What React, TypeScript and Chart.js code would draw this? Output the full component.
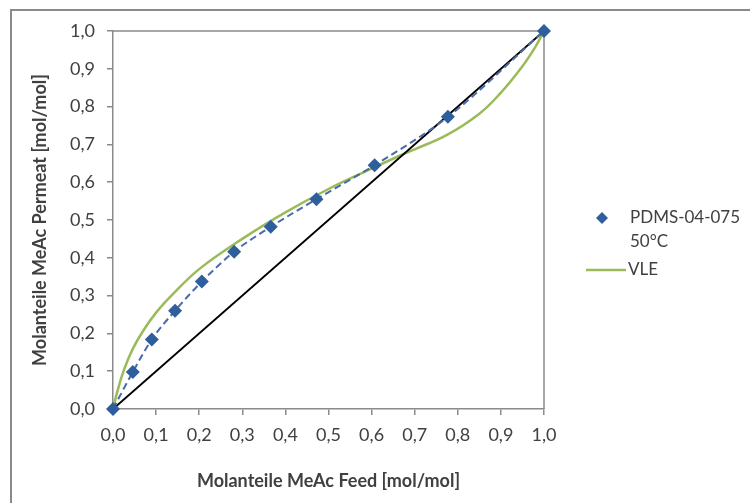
import React, { useEffect, useRef } from "react";
import { Chart, registerables } from "chart.js";

Chart.register(...registerables);

// Measured series PDMS-04-075 50°C
const feedX = [0, 0.046, 0.09, 0.144, 0.206, 0.281, 0.366, 0.472, 0.607, 0.777, 1.0];
const permeatY = [0, 0.098, 0.184, 0.26, 0.337, 0.416, 0.482, 0.555, 0.645, 0.773, 1.0];

// VLE curve
const vleX = [0, 0.01, 0.025, 0.045, 0.07, 0.1, 0.14, 0.2, 0.3, 0.4, 0.5, 0.6, 0.665, 0.7, 0.775, 0.85, 0.9, 0.95, 0.98, 1.0];
const vleY = [0, 0.046, 0.102, 0.157, 0.207, 0.255, 0.305, 0.37, 0.45, 0.52, 0.582, 0.636, 0.67, 0.687, 0.725, 0.781, 0.837, 0.907, 0.958, 1.0];

// Diagonal
const diagX = [0, 1];
const diagY = [0, 1];

const seriesLabel = ["PDMS-04-075", "50°C"];
const vleLabel = "VLE";
const xTitle = "Molanteile MeAc Feed [mol/mol]";
const yTitle = "Molanteile MeAc Permeat [mol/mol]";

const FONT = "Lato, 'Open Sans', sans-serif";
const TEXT = "#404040";
const AXIS = "#8a8a8a";
const BLUE = "#2f5e9c";
const BLUE_LINE = "#4a6aa8";
const GREEN = "#9bbb59";

const zip = (xs: number[], ys: number[]) => xs.map((x, i) => ({ x, y: ys[i] }));
const fmt = (v: any) => Number(v).toFixed(1).replace(".", ",");

const framePlugin = {
  id: "frame",
  beforeDraw(chart: any) {
    const ctx = chart.ctx;
    ctx.save();
    ctx.fillStyle = "#ffffff";
    ctx.fillRect(0, 0, chart.width, chart.height);
    ctx.strokeStyle = AXIS;
    ctx.lineWidth = 2;
    ctx.beginPath();
    ctx.moveTo(11, chart.height + 5);
    ctx.lineTo(11, 10);
    ctx.lineTo(chart.width + 5, 10);
    ctx.stroke();
    ctx.restore();
  },
  beforeDatasetsDraw(chart: any) {
    const { ctx, chartArea: a } = chart;
    ctx.save();
    ctx.strokeStyle = AXIS;
    ctx.lineWidth = 1.5;
    ctx.beginPath();
    ctx.moveTo(a.left, a.top);
    ctx.lineTo(a.right, a.top);
    ctx.lineTo(a.right, a.bottom);
    ctx.stroke();
    ctx.restore();
  },
  afterDraw(chart: any) {
    const ctx = chart.ctx;
    ctx.save();
    const dx = 602, dy = 218, r = 6;
    ctx.fillStyle = BLUE;
    ctx.beginPath();
    ctx.moveTo(dx, dy - r);
    ctx.lineTo(dx + r, dy);
    ctx.lineTo(dx, dy + r);
    ctx.lineTo(dx - r, dy);
    ctx.closePath();
    ctx.fill();
    ctx.fillStyle = TEXT;
    ctx.font = `17px ${FONT}`;
    ctx.textBaseline = "middle";
    ctx.textAlign = "left";
    ctx.fillText(seriesLabel[0], 630, 218);
    ctx.fillText(seriesLabel[1], 630, 242);
    ctx.strokeStyle = GREEN;
    ctx.lineWidth = 2.5;
    ctx.beginPath();
    ctx.moveTo(586, 270);
    ctx.lineTo(626, 270);
    ctx.stroke();
    ctx.fillText(vleLabel, 628, 270);
    ctx.restore();
  },
};

export default function App() {
  const ref = useRef<HTMLCanvasElement | null>(null);

  useEffect(() => {
    if (!ref.current) return;
    const chart = new Chart(ref.current, {
      type: "scatter",
      data: {
        datasets: [
          {
            label: "VLE",
            data: zip(vleX, vleY),
            showLine: true,
            borderColor: GREEN,
            borderWidth: 2.5,
            pointRadius: 0,
            tension: 0.4,
            clip: false,
            order: 3,
          } as any,
          {
            label: "Diagonal",
            data: zip(diagX, diagY),
            showLine: true,
            borderColor: "#000000",
            borderWidth: 1.8,
            pointRadius: 0,
            clip: false,
            order: 2,
          } as any,
          {
            label: "PDMS-04-075 50°C",
            data: zip(feedX, permeatY),
            showLine: true,
            borderColor: BLUE_LINE,
            borderWidth: 2,
            borderDash: [7, 4],
            cubicInterpolationMode: "monotone",
            pointStyle: "rectRot",
            pointRadius: 7,
            pointBackgroundColor: BLUE,
            pointBorderColor: BLUE,
            pointBorderWidth: 0,
            clip: false,
            order: 1,
          } as any,
        ],
      },
      options: {
        responsive: false,
        animation: false,
        events: [],
        layout: { padding: { top: 31, right: 206, left: 0, bottom: 0 } },
        plugins: {
          legend: { display: false },
          tooltip: { enabled: false },
        },
        scales: {
          x: {
            type: "linear",
            min: 0,
            max: 1,
            afterFit: (s: any) => {
              s.height = 94;
            },
            ticks: {
              stepSize: 0.1,
              callback: fmt,
              color: TEXT,
              font: { family: FONT, size: 18 },
              padding: 9,
              maxRotation: 0,
            },
            grid: {
              drawOnChartArea: false,
              drawTicks: true,
              tickLength: 6,
              color: AXIS,
              lineWidth: 1.5,
            },
            border: { display: true, color: AXIS, width: 1.5 },
            title: {
              display: true,
              text: xTitle,
              color: TEXT,
              font: { family: FONT, size: 18, weight: "bold" },
              padding: { top: 0, bottom: 11 },
            },
          },
          y: {
            type: "linear",
            min: 0,
            max: 1,
            afterFit: (s: any) => {
              s.width = 113;
            },
            ticks: {
              stepSize: 0.1,
              callback: fmt,
              color: TEXT,
              font: { family: FONT, size: 18 },
              padding: 12,
            },
            grid: {
              drawOnChartArea: false,
              drawTicks: true,
              tickLength: 6,
              color: AXIS,
              lineWidth: 1.5,
            },
            border: { display: true, color: AXIS, width: 1.5 },
            title: {
              display: true,
              text: yTitle,
              color: TEXT,
              font: { family: FONT, size: 18, weight: "bold" },
              padding: { top: 29, bottom: 0 },
            },
          },
        },
      } as any,
      plugins: [framePlugin],
    });
    return () => chart.destroy();
  }, []);

  return (
    <div style={{ position: "absolute", left: 0, top: 0, width: 750, height: 503 }}>
      <canvas ref={ref} width={750} height={503} style={{ display: "block" }} />
    </div>
  );
}
